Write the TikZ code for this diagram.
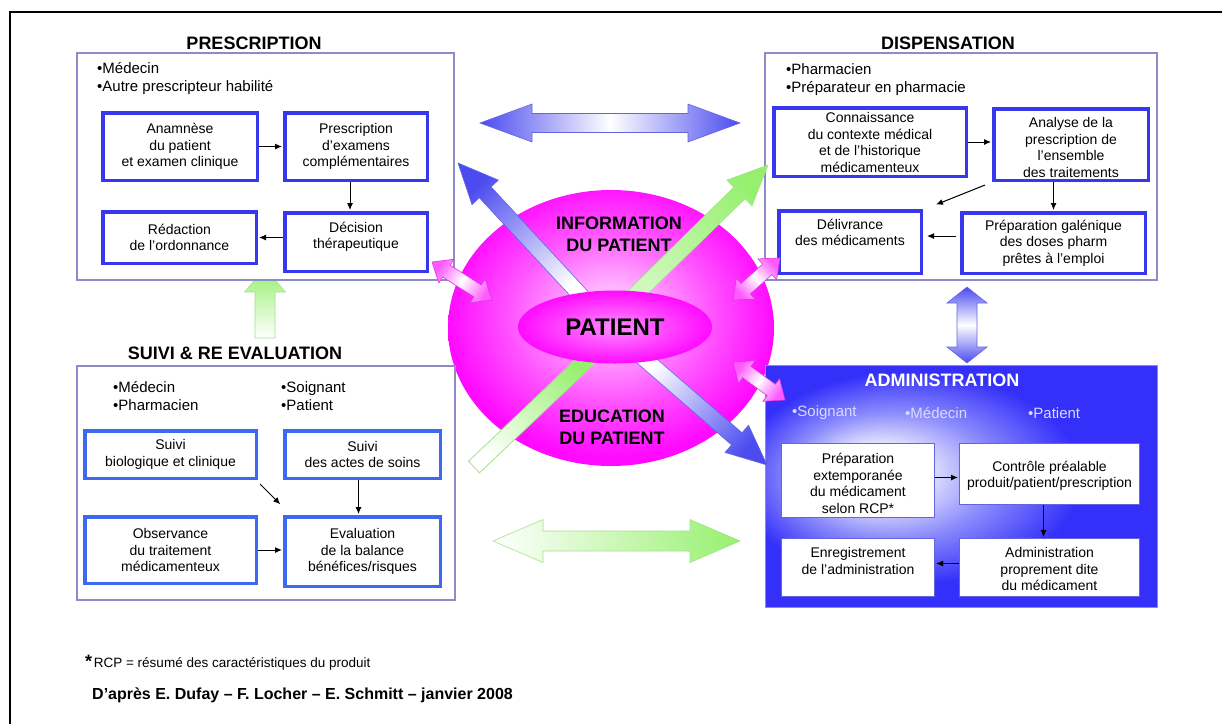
\documentclass[tikz,border=0pt]{standalone}
\usepackage{fontspec}
\setmainfont{Liberation Sans}
\usetikzlibrary{calc,arrows.meta,shapes.geometric}
\definecolor{boxblue}{RGB}{55,55,240}
\definecolor{sblue}{RGB}{60,105,240}
\definecolor{panelc}{RGB}{140,140,200}
\definecolor{admblue}{RGB}{52,48,250}
\definecolor{admmid}{RGB}{140,140,252}
\definecolor{arrblue}{RGB}{75,75,240}
\definecolor{arrline}{RGB}{100,100,225}
\definecolor{arrgreen}{RGB}{150,240,110}
\definecolor{greenline}{RGB}{165,225,140}
\definecolor{pkdark}{RGB}{255,10,255}
\definecolor{pkmid}{RGB}{255,80,255}
\definecolor{pklight}{RGB}{255,180,255}
\definecolor{pkcore}{RGB}{255,140,255}
\definecolor{pkarrow}{RGB}{255,90,255}
\definecolor{pkline}{RGB}{225,50,225}
\definecolor{bultxt}{RGB}{215,220,255}
\pgfdeclareradialshading{pinkball}{\pgfpoint{0bp}{3bp}}{color(0bp)=(pklight); color(5bp)=(pklight); color(16bp)=(pkmid); color(25bp)=(pkdark); color(50bp)=(pkdark)}
\pgfdeclareradialshading{pinkcore}{\pgfpoint{0bp}{0bp}}{color(0bp)=(pkcore); color(25bp)=(pkdark); color(50bp)=(pkdark)}
\pgfdeclareradialshading{adminglow}{\pgfpoint{-12bp}{3bp}}{color(0bp)=(white); color(4bp)=(white); color(13bp)=(admmid); color(22bp)=(admblue); color(50bp)=(admblue)}
\newcommand\fsz[2]{\fontsize{#1}{#2}\selectfont}
% text block lifted by #1 without changing its box
\newcommand\lift[2]{\raisebox{#1}[\height][\depth]{\begin{tabular}{@{}c@{}}#2\end{tabular}}}
% double block arrow: style, from, to, shaft half width, head half width, head length
\newcommand\dblarrow[6]{%
  \coordinate (dac) at ($(#3)!#6!(#2)$);
  \coordinate (dad) at ($(#2)!#6!(#3)$);
  \path[#1] (#2) -- ($(dad)!#5!90:(#3)$) -- ($(dad)!#4!90:(#3)$) -- ($(dac)!#4!90:(#3)$) -- ($(dac)!#5!90:(#3)$) -- (#3) -- ($(dac)!#5!-90:(#3)$) -- ($(dac)!#4!-90:(#3)$) -- ($(dad)!#4!-90:(#3)$) -- ($(dad)!#5!-90:(#3)$) -- cycle;}
\newcommand\sglarrow[6]{%
  \coordinate (sac) at ($(#3)!#6!(#2)$);
  \path[#1] ($(#2)!#4!90:(#3)$) -- ($(sac)!#4!90:(#3)$) -- ($(sac)!#5!90:(#3)$) -- (#3) -- ($(sac)!#5!-90:(#3)$) -- ($(sac)!#4!-90:(#3)$) -- ($(#2)!#4!-90:(#3)$) -- cycle;}
\newcommand\barshaft[4]{%
  \path[#1] ($(#2)!#4!90:(#3)$) -- ($(#3)!#4!-90:(#2)$) -- ($(#3)!#4!90:(#2)$) -- ($(#2)!#4!-90:(#3)$) -- cycle;}
\tikzset{
  panel/.style={draw=panelc, line width=1.2pt, fill=white, inner sep=0pt},
  bbox/.style={draw=boxblue, line width=3.5pt, fill=white, align=center, font=\fsz{14}{16.5}, inner sep=0pt},
  sbox/.style={bbox, draw=sblue},
  abox/.style={draw=arrline, line width=1pt, fill=white, align=center, font=\fsz{14}{16.5}, inner sep=0pt},
  conn/.style={-{Latex[length=7pt,width=6pt]}, line width=1pt, shorten >=1pt},
  ttl/.style={font=\bfseries\fsz{18}{20}, inner sep=0pt},
  bul/.style={anchor=west, align=left, inner sep=0pt, font=\fsz{15}{18}},
  bluearr/.style={draw=arrline, line width=0.6pt},
  greenarr/.style={draw=greenline, line width=0.6pt},
  pinkarr/.style={draw=pkline, line width=0.6pt, left color=pkarrow, right color=pkarrow, middle color=white},
}
\begin{document}
\begin{tikzpicture}[x=1pt,y=-1pt]
\useasboundingbox (0,0) rectangle (1222,724);
% frame
\draw[line width=1.5pt] (10,724) -- (10,12) -- (1222,12);

% green up arrow (behind panels)
\coordinate (uA) at (265,338); \coordinate (uB) at (265,268);
\sglarrow{greenarr, top color=arrgreen, bottom color=white}{uA}{uB}{10pt}{20.5pt}{24pt}

% big ellipse
\node[ellipse, shade, shading=pinkball, minimum width=326, minimum height=276, inner sep=0pt] (ball) at (611,328) {};

% panels
\node[panel, minimum width=377, minimum height=227] (ppanel) at (265.5,166.5) {};
\node[panel, minimum width=392, minimum height=227] (dpanel) at (961,166.5) {};
\node[panel, minimum width=378, minimum height=234] (spanel) at (266,483) {};
\node[draw=panelc, line width=1pt, shade, shading=adminglow, minimum width=392, minimum height=242, inner sep=0pt] (apanel) at (961,486) {};

% titles
\node[ttl] (tpres) at (254,43) {PRESCRIPTION};
\node[ttl] (tdisp) at (948,43) {DISPENSATION};
\node[ttl] (tsuiv) at (235,353) {SUIVI \& RE EVALUATION};
\node[ttl, text=white] (tadm) at (942,380) {ADMINISTRATION};

% bullets
\node[bul] (pbul) at (97,79) {•Médecin\\•Autre prescripteur habilité};
\node[bul] (dbul) at (786,80) {•Pharmacien\\•Préparateur en pharmacie};
\node[bul] (sbul1) at (113,396) {•Médecin\\•Pharmacien};
\node[bul] (sbul2) at (281,396) {•Soignant\\•Patient};
\node[bul, text=bultxt] (abul1) at (792,413) {•Soignant};
\node[bul, text=bultxt] (abul2) at (905,413) {•Médecin};
\node[bul, text=bultxt] (abul3) at (1028,413) {•Patient};

% prescription boxes
\node[bbox, minimum width=154.5, minimum height=67.5] (ana) at (180,146.5) {Anamnèse\\du patient\\et examen clinique};
\node[bbox, minimum width=142.5, minimum height=67.5] (pexa) at (356,146.5) {Prescription\\d'examens\\complémentaires};
\node[bbox, minimum width=153.5, minimum height=51.5] (red) at (179.5,237.5) {Rédaction\\de l'ordonnance};
\node[bbox, minimum width=142.5, minimum height=58.5] (dec) at (356,242) {\lift{5pt}{Décision\\thérapeutique}};

% dispensation boxes
\node[bbox, minimum width=192.5, minimum height=68.5] (con) at (870,142) {\lift{-2pt}{Connaissance\\du contexte médical\\et de l'historique\\médicamenteux}};
\node[bbox, minimum width=154.5, minimum height=71.5] (ana2) at (1071,144.5) {\lift{-4.5pt}{Analyse de la\\prescription de\\l'ensemble\\des traitements}};
\node[bbox, minimum width=142.5, minimum height=62.5] (del) at (850,242) {\lift{8pt}{Délivrance\\des médicaments}};
\node[bbox, minimum width=183.5, minimum height=60.5] (prep) at (1053.5,243) {Préparation galénique\\des doses pharm\\prêtes à l'emploi};

% suivi boxes
\node[sbox, minimum width=171.5, minimum height=47.5] (sbio) at (170.5,454.5) {Suivi\\biologique et clinique};
\node[sbox, minimum width=155.5, minimum height=47.5] (sact) at (362.5,454.5) {Suivi\\des actes de soins};
\node[sbox, minimum width=171.5, minimum height=66.5] (obs) at (170.5,550) {Observance\\du traitement\\médicamenteux};
\node[sbox, minimum width=155.5, minimum height=69.5] (eval) at (362.5,551.5) {Evaluation\\de la balance\\bénéfices/risques};

% administration boxes
\node[abox, minimum width=153, minimum height=74] (pext) at (858,480.5) {\lift{-4.5pt}{Préparation\\extemporanée\\du médicament\\selon RCP*}};
\node[abox, minimum width=180, minimum height=61] (ctrl) at (1049.5,474) {\lift{-2pt}{Contrôle préalable\\produit/patient/prescription}};
\node[abox, minimum width=153, minimum height=58] (enr) at (858,567.5) {\lift{5pt}{Enregistrement\\de l'administration}};
\node[abox, minimum width=180, minimum height=58] (adm) at (1049.5,567.5) {\lift{-3.5pt}{Administration\\proprement dite\\du médicament}};

% big block arrows
\coordinate (hA) at (480,123); \coordinate (hB) at (740,123);
\dblarrow{bluearr, left color=arrblue, right color=arrblue, middle color=white}{hA}{hB}{9.5pt}{19pt}{52pt}
\coordinate (gA) at (493,541); \coordinate (gB) at (740,541);
\dblarrow{greenarr, left color=white, right color=arrgreen}{gA}{gB}{10pt}{21.5pt}{50pt}
\coordinate (vA) at (967,287); \coordinate (vB) at (967,363);
\dblarrow{bluearr, left color=arrblue, right color=arrblue, middle color=white, shading angle=0}{vA}{vB}{10pt}{20pt}{16pt}

% diagonal arrows
\coordinate (d1A) at (585,300); \coordinate (d1B) at (458,163);
\sglarrow{bluearr, top color=arrblue, bottom color=white, shading angle=43}{d1A}{d1B}{8pt}{18pt}{40pt}
\coordinate (d2A) at (630,300); \coordinate (d2B) at (768,165);
\sglarrow{greenarr, top color=arrgreen, bottom color=arrgreen!45!white, shading angle=-46}{d2A}{d2B}{8pt}{18pt}{40pt}
\coordinate (d3A) at (592,355); \coordinate (d3B) at (474,467);
\barshaft{greenarr, line width=0.8pt, top color=white, bottom color=arrgreen, shading angle=133}{d3A}{d3B}{8pt}
\coordinate (d4A) at (640,355); \coordinate (d4B) at (767,465);
\sglarrow{bluearr, top color=arrblue, bottom color=white, shading angle=-131}{d4A}{d4B}{8pt}{18pt}{40pt}

% pink arrows
\coordinate (p1A) at (432,262); \coordinate (p1B) at (492,300);
\dblarrow{pinkarr, shading angle=-122}{p1A}{p1B}{7pt}{14pt}{17pt}
\coordinate (p2A) at (733,300); \coordinate (p2B) at (780,258);
\dblarrow{pinkarr, shading angle=-48}{p2A}{p2B}{7pt}{14pt}{17pt}
\coordinate (p3A) at (733,362); \coordinate (p3B) at (785,400);
\dblarrow{pinkarr, shading angle=-126}{p3A}{p3B}{7pt}{14pt}{17pt}

% patient core
\node[ellipse, shade, shading=pinkcore, minimum width=194, minimum height=73, inner sep=0pt, font=\bfseries\fsz{24}{26}] (patient) at (615,327) {PATIENT};
\node[align=center, inner sep=0pt, font=\bfseries\fsz{18}{22}] (info) at (619,234) {INFORMATION\\DU PATIENT};
\node[align=center, inner sep=0pt, font=\bfseries\fsz{18}{22}] (educ) at (612,427) {EDUCATION\\DU PATIENT};

% connectors
\draw[conn] (ana) -- (pexa);
\draw[conn] ([xshift=-6pt]pexa.south) -- ([xshift=-6pt]dec.north);
\draw[conn] (dec.west |- red.east) -- (red.east);
\draw[conn] (con.east) -- (con.east -| ana2.west);
\draw[conn] (prep.north |- ana2.south) -- (prep.north);
\draw[conn] ([xshift=-7pt,yshift=-3pt]ana2.south west) -- ([xshift=12pt,yshift=4pt]del.north east);
\draw[conn, shorten <=4pt, shorten >=4pt] ([yshift=7pt]prep.west) -- ([yshift=7pt]prep.west -| del.east);
\draw[conn] ([xshift=2pt,yshift=-4pt]sbio.south east) -- ([xshift=-2pt,yshift=10pt]eval.north west);
\draw[conn] ([xshift=-4pt]sact.south) -- ([xshift=-4pt]sact.south |- eval.north);
\draw[conn] (obs.east) -- (obs.east -| eval.west);
\draw[conn] ([yshift=3pt]pext.east) -- ([yshift=3pt]pext.east -| ctrl.west);
\draw[conn] ([xshift=-6pt]ctrl.south) -- ([xshift=-6pt]ctrl.south |- adm.north);
\draw[conn] ([yshift=4pt]adm.west) -- ([yshift=4pt]adm.west -| enr.east);

% footer
\node[anchor=west, inner sep=0pt] (fn) at (85,663) {{\bfseries\fsz{18}{18}*}\,\fsz{13.5}{16}RCP = résumé des caractéristiques du produit};
\node[anchor=west, inner sep=0pt, font=\bfseries\fsz{16}{18}] (src) at (92,695) {D'après E. Dufay -- F. Locher -- E. Schmitt -- janvier 2008};
\end{tikzpicture}
\end{document}
